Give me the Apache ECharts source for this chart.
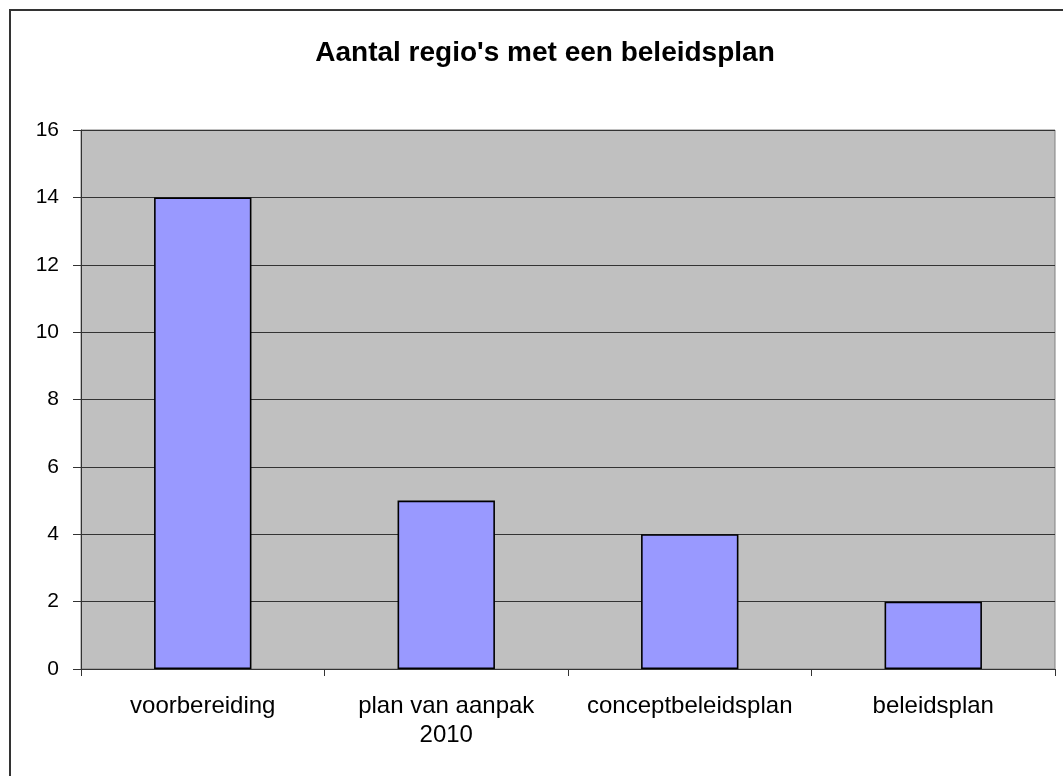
<!DOCTYPE html>
<html>
<head>
<meta charset="utf-8">
<title>Aantal regio's met een beleidsplan</title>
<script src="https://cdn.jsdelivr.net/npm/echarts@6/dist/echarts.min.js"></script>
<style>
  html, body { margin: 0; padding: 0; background: #fff; }
  #chart { width: 1063px; height: 776px; }
</style>
</head>
<body>
<div id="chart"></div>
<script>
// data
const categories = ['voorbereiding', 'plan van aanpak\n2010', 'conceptbeleidsplan', 'beleidsplan'];
const values = [14, 5, 4, 2];
const yTicks = { min: 0, max: 16, interval: 2 };

const FONT = '"Liberation Sans", Arial, sans-serif';

const chart = echarts.init(document.getElementById('chart'), null, { renderer: 'canvas' });

const option = {
    backgroundColor: '#ffffff',
    animation: false,
    title: {
        text: "Aantal regio's met een beleidsplan",
        left: 540,
        top: 34,
        textAlign: 'center',
        textStyle: {
            fontFamily: FONT,
            fontSize: 28,
            fontWeight: 'bold',
            color: '#000'
        }
    },
    // outer chart frame, runs off the right and bottom edge like the reference
    graphic: [{
        type: 'rect',
        shape: { x: 10, y: 10, width: 1200, height: 900 },
        style: { fill: 'none', stroke: '#333', lineWidth: 2 },
        silent: true,
        z: 100
    }],
    grid: {
        left: 81,
        right: 8,
        top: 130,
        bottom: 107,
        show: true,
        backgroundColor: '#C0C0C0',
        borderColor: '#808080',
        borderWidth: 1
    },
    xAxis: {
        type: 'category',
        data: categories,
        boundaryGap: true,
        axisLine: { lineStyle: { color: '#333', width: 1 } },
        axisTick: { show: true, length: 7, lineStyle: { color: '#333' } },
        axisLabel: {
            color: '#000',
            fontFamily: FONT,
            fontSize: 24,
            lineHeight: 29,
            margin: 23,
            interval: 0
        }
    },
    yAxis: {
        type: 'value',
        min: yTicks.min,
        max: yTicks.max,
        interval: yTicks.interval,
        axisLine: { show: true, lineStyle: { color: '#333', width: 1 } },
        axisTick: { show: true, length: 8, lineStyle: { color: '#333' } },
        axisLabel: {
            color: '#000',
            fontFamily: FONT,
            fontSize: 21,
            margin: 22
        },
        splitLine: { show: true, lineStyle: { color: '#333', width: 1 } }
    },
    series: [{
        type: 'bar',
        data: values,
        barWidth: '40%',
        itemStyle: {
            color: '#9999FF',
            borderColor: '#000',
            borderWidth: 1.6
        }
    }]
};

chart.setOption(option);
</script>
</body>
</html>
